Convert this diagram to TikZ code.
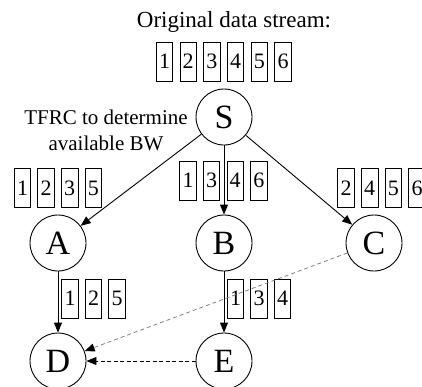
\documentclass[tikz,border=0pt]{standalone}
\usepackage{fontspec}
\setmainfont{Liberation Serif}
\usetikzlibrary{arrows.meta}
\begin{document}
\begin{tikzpicture}[x=1pt,y=-1pt,
  nodecirc/.style={circle,draw,line width=0.9pt,minimum size=56pt,inner sep=0pt,font=\fontsize{34}{36}\selectfont},
  pkt/.style={draw,line width=0.9pt,minimum width=16.5pt,minimum height=39pt,inner sep=0pt,font=\fontsize{22}{24}\selectfont},
  arr/.style={line width=0.9pt,-{Triangle[length=10pt,width=8pt]}},
  darr/.style={line width=0.9pt,dash pattern=on 4pt off 2.5pt,-{Triangle[length=10pt,width=8pt]}},
  garr/.style={line width=0.8pt,gray,dash pattern=on 4pt off 3pt,-{Triangle[length=10pt,width=8pt,color=black]}}]
\useasboundingbox (0,0) rectangle (422,386);
\node (title) at (234,22) {\fontsize{23}{25}\selectfont Original data stream:};
\foreach \n [count=\i from 0] in {1,2,3,4,5,6}
  \node[pkt] (t\n) at (164.5+23.7*\i,61.5) {\n};
\node[align=center,font=\fontsize{21}{26}\selectfont] (tfrc) at (106,130) {TFRC to determine\\available BW};
\node[nodecirc] (S) at (224,117) {S};
\node[nodecirc] (A) at (58,243) {A};
\node[nodecirc] (B) at (224,243) {B};
\node[nodecirc] (C) at (374,243) {C};
\node[nodecirc] (D) at (58,361) {D};
\node[nodecirc] (E) at (224,361) {E};
\foreach \n [count=\i from 0] in {1,2,3,5}
  \node[pkt] (a\n) at (22.5+23.6*\i,188) {\n};
\foreach \n [count=\i from 0] in {1,3,4,6}
  \node[pkt] (b\n) at (188+23.6*\i,180.5) {\n};
\foreach \n [count=\i from 0] in {2,4,5,6}
  \node[pkt] (c\n) at (346+23.7*\i,188) {\n};
\foreach \n [count=\i from 0] in {1,2,5}
  \node[pkt] (ad\n) at (70+23.5*\i,298.5) {\n};
\foreach \n [count=\i from 0] in {1,3,4}
  \node[pkt] (be\n) at (235.5+23.5*\i,298.5) {\n};
\draw[arr] (S) -- (A);
\draw[arr] (S) -- (B);
\draw[arr] (S) -- (C);
\draw[arr] (A) -- (D);
\draw[arr] (B) -- (E);
\draw[darr] (E) -- (D);
\draw[garr] (C) -- (D);
\end{tikzpicture}
\end{document}
